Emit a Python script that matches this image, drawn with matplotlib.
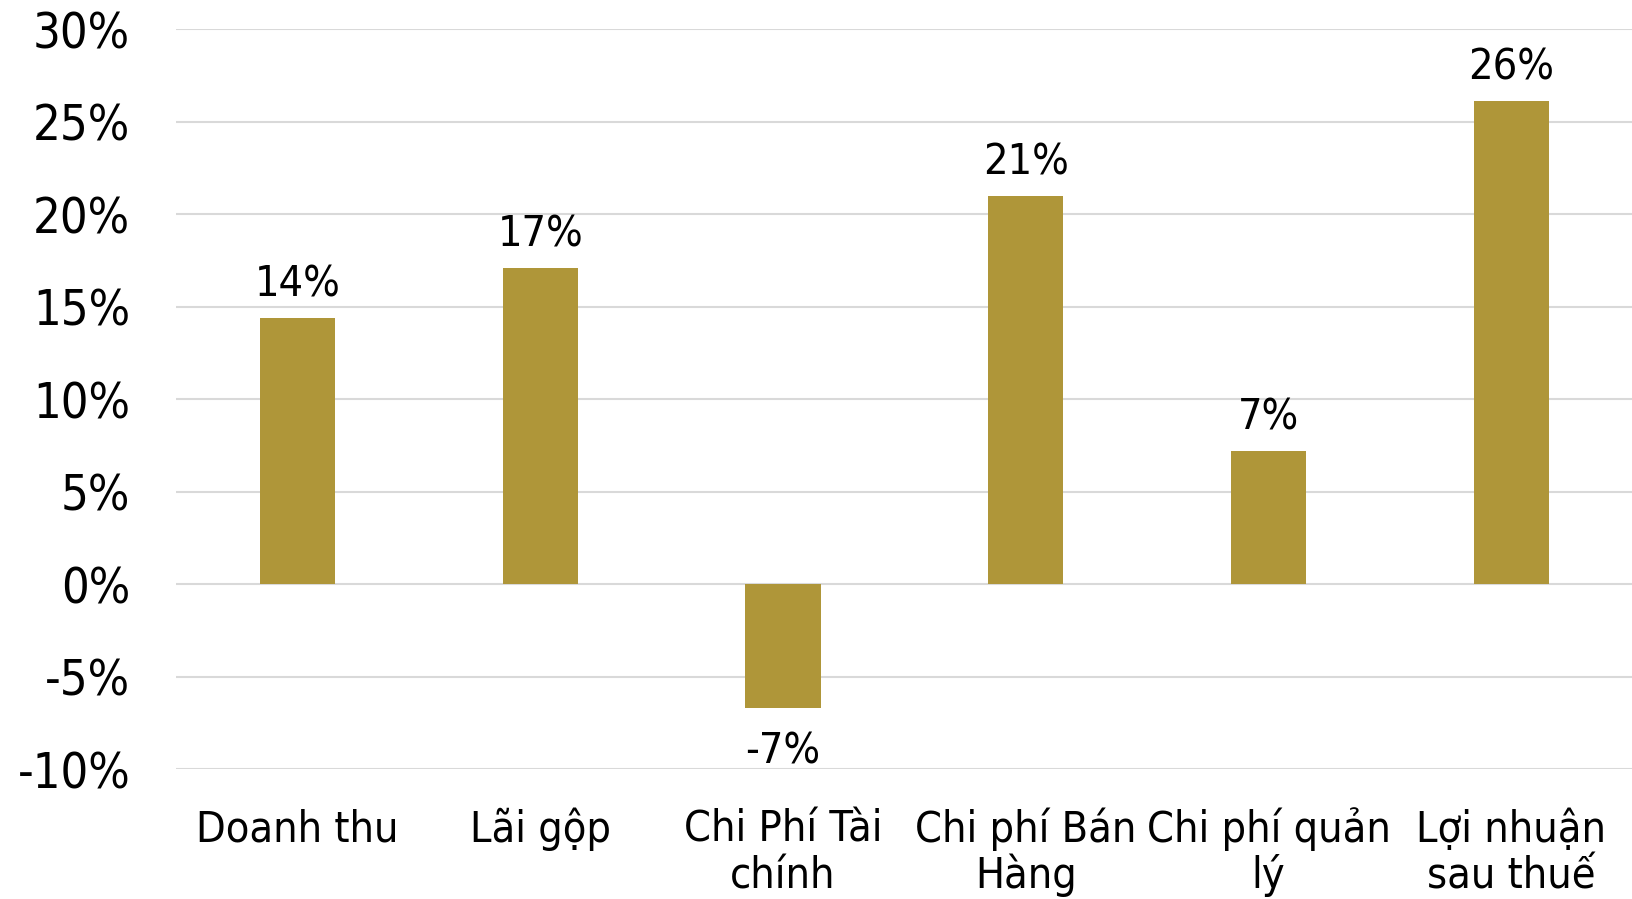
import matplotlib
matplotlib.use("Agg")
import matplotlib.pyplot as plt
from matplotlib.ticker import FuncFormatter

# --- Datos ---
categorias = ["Doanh thu", "Lãi gộp", "Chi Phí Tài\nchính", "Chi phí Bán\nHàng",
              "Chi phí quản\nlý", "Lợi nhuận\nsau thuế"]
valores = [14.4, 17.1, -6.7, 21.0, 7.2, 26.1]
etiquetas = ["14%", "17%", "-7%", "21%", "7%", "26%"]
ticks_y = [-10, -5, 0, 5, 10, 15, 20, 25, 30]

color_barra = "#AF9639"
color_grid = "#D9D9D9"
fuente = dict(family="DejaVu Sans", stretch="condensed")

fig = plt.figure(figsize=(16.33, 8.99), dpi=100)
ax = fig.add_axes([0.1078, 0.1446, 0.892, 0.8229])

x = range(len(categorias))
ax.bar(x, valores, width=0.31, color=color_barra, zorder=3)

# etiquetas de datos
for i, (v, t) in enumerate(zip(valores, etiquetas)):
    if v >= 0:
        ax.annotate(t, (i, v), xytext=(0, 9), textcoords="offset points",
                    ha="center", va="bottom", fontsize=31, **fuente)
    else:
        ax.annotate(t, (i, v), xytext=(0, -16), textcoords="offset points",
                    ha="center", va="top", fontsize=31, **fuente)

ax.set_xlim(-0.5, len(categorias) - 0.5)
ax.set_ylim(-10, 30)
ax.set_yticks(ticks_y)
ax.yaxis.set_major_formatter(FuncFormatter(lambda v, p: f"{v:.0f}%"))
ax.set_xticks(list(x))
ax.set_xticklabels([])
for lab in ax.get_yticklabels():
    lab.set_fontsize(35)
    lab.set_family("DejaVu Sans")
    lab.set_stretch("condensed")

# etiquetas de categorias, linea por linea (mismas lineas base)
trans = ax.get_xaxis_transform()
for i, c in enumerate(categorias):
    for j, linea in enumerate(c.split("\n")):
        ax.text(i, -0.098 - 0.0635 * j, linea, transform=trans, ha="center",
                va="baseline", fontsize=31, clip_on=False, **fuente)

ax.tick_params(axis="both", length=0)
ax.tick_params(axis="y", pad=33)
ax.grid(axis="y", color=color_grid, linewidth=1.5, zorder=0)
for s in ax.spines.values():
    s.set_visible(False)

fig.savefig("out.png")
